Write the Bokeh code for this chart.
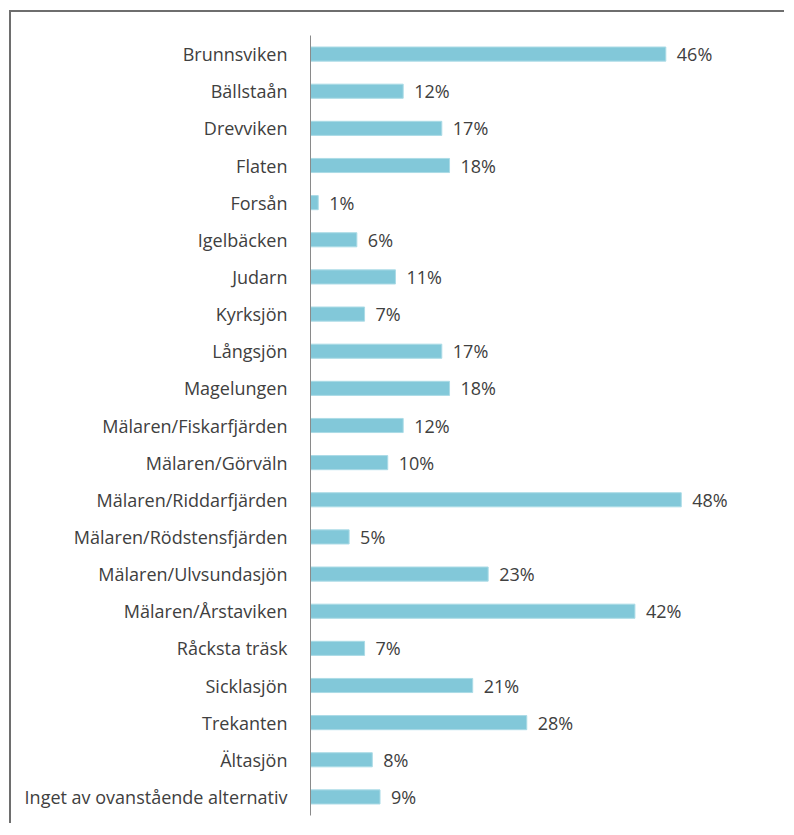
from bokeh.plotting import figure
from bokeh.models import ColumnDataSource, Range1d
from bokeh.core.properties import value
from bokeh.embed import file_html
from bokeh.resources import INLINE

categories = ["Brunnsviken", "Bällstaån", "Drevviken", "Flaten", "Forsån", "Igelbäcken",
              "Judarn", "Kyrksjön", "Långsjön", "Magelungen", "Mälaren/Fiskarfjärden",
              "Mälaren/Görväln", "Mälaren/Riddarfjärden", "Mälaren/Rödstensfjärden",
              "Mälaren/Ulvsundasjön", "Mälaren/Årstaviken", "Råcksta träsk", "Sicklasjön",
              "Trekanten", "Ältasjön", "Inget av ovanstående alternativ"]
values = [46, 12, 17, 18, 1, 6, 11, 7, 17, 18, 12, 10, 48, 5, 23, 42, 7, 21, 28, 8, 9]
labels = [f"{v}%" for v in values]

FONT = "Open Sans"

src = ColumnDataSource(dict(cat=categories, val=values, lab=labels))

p = figure(width=775, height=813, y_range=list(reversed(categories)),
           x_range=Range1d(0, 60.2), output_backend="svg", toolbar_location=None,
           min_border_left=299, min_border_right=11, min_border_top=23, min_border_bottom=10)
p.styles = {"border-left": "2px solid #6e6e6e", "border-top": "2px solid #6e6e6e",
            "margin-left": "9px", "margin-top": "10px"}

p.hbar(y="cat", left=0, right="val", height=0.38, source=src,
       fill_color="#82c8d9", line_color="#abdbe6", line_width=1)
p.text(x="val", y="cat", text="lab", source=src, x_offset=11,
       text_baseline="middle", text_align="left", text_font=value(FONT),
       text_font_size="18px", text_color="#404040")

p.xaxis.visible = False
p.xgrid.visible = False
p.ygrid.visible = False
p.outline_line_color = None
p.yaxis.axis_line_color = "#8a8a8a"
p.yaxis.major_tick_line_color = None
p.yaxis.minor_tick_line_color = None
p.yaxis.major_label_text_font = FONT
p.yaxis.major_label_text_font_size = "18px"
p.yaxis.major_label_text_color = "#404040"
p.yaxis.major_label_standoff = 17
p.y_range.range_padding = 0

open("out.html", "w").write(file_html(p, INLINE))
